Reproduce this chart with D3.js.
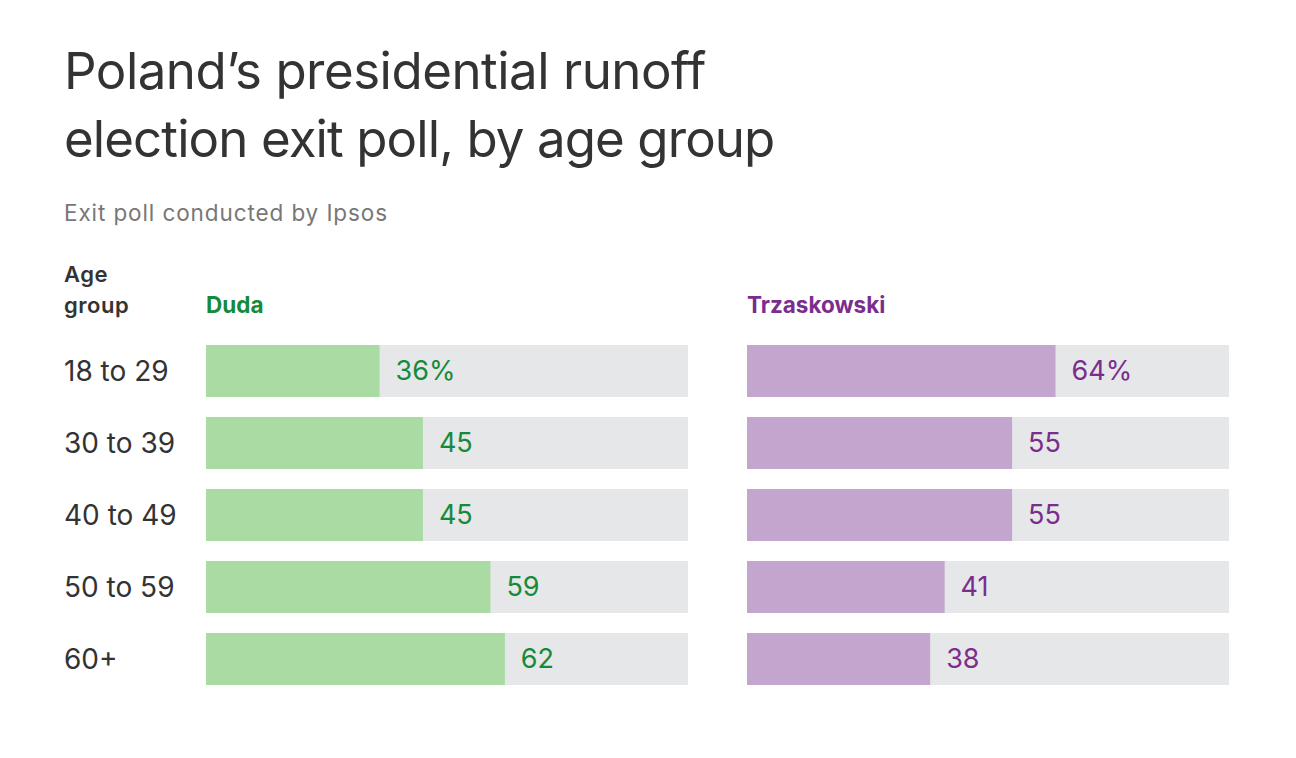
<!DOCTYPE html>
<html>
<head>
<meta charset="utf-8">
<script src="https://cdn.jsdelivr.net/npm/d3@7"></script>
<style>
  body { margin: 0; background: #fff; font-family: Inter, "Noto Sans", sans-serif; }
</style>
</head>
<body>
<div id="chart"></div>
<script>
var ageGroups = ["18 to 29", "30 to 39", "40 to 49", "50 to 59", "60+"];
var dudaValues = [36, 45, 45, 59, 62];
var trzaskowskiValues = [64, 55, 55, 41, 38];
var candidates = ["Duda", "Trzaskowski"];

var width = 1296, height = 758;

var svg = d3.select("#chart")
  .append("svg")
  .attr("width", width)
  .attr("height", height);

// title
svg.append("text")
  .attr("x", 64).attr("y", 89)
  .attr("font-size", "51px").attr("fill", "#333")
  .attr("letter-spacing", "-0.5px")
  .text("Poland\u2019s presidential runoff");
svg.append("text")
  .attr("x", 64).attr("y", 157)
  .attr("font-size", "51px").attr("fill", "#333")
  .attr("letter-spacing", "-0.9px")
  .text("election exit poll, by age group");

svg.append("text")
  .attr("x", 64).attr("y", 221)
  .attr("font-size", "22.5px").attr("fill", "#777")
  .attr("letter-spacing", "0.9px")
  .text("Exit poll conducted by Ipsos");

svg.append("text")
  .attr("x", 64).attr("y", 282)
  .attr("font-size", "22px").attr("font-weight", 600).attr("fill", "#333")
  .attr("letter-spacing", "0.5px")
  .text("Age");
svg.append("text")
  .attr("x", 64).attr("y", 313)
  .attr("font-size", "22px").attr("font-weight", 600).attr("fill", "#333")
  .attr("letter-spacing", "0.5px")
  .text("group");

var y = d3.scaleBand()
  .domain(ageGroups)
  .range([345, 685])
  .paddingInner(20 / 72)
  .paddingOuter(0);

// row labels
svg.selectAll(".rowlabel")
  .data(ageGroups)
  .enter()
  .append("text")
  .attr("class", "rowlabel")
  .attr("x", 64)
  .attr("y", function (d) { return y(d) + y.bandwidth() / 2; })
  .attr("dy", "0.35em")
  .attr("font-size", "28px")
  .attr("fill", "#333")
  .text(function (d) { return d; });

var panels = [
  { name: "Duda", values: dudaValues, x0: 206, fill: "#a9dba3", text: "#178a3a" },
  { name: "Trzaskowski", values: trzaskowskiValues, x0: 747, fill: "#c3a5cd", text: "#7b2d8e" }
];

panels.forEach(function (p) {
  var x = d3.scaleLinear().domain([0, 100]).range([p.x0, p.x0 + 482]);
  var g = svg.append("g");

  g.append("text")
    .attr("x", p.x0).attr("y", 313)
    .attr("font-size", "22.5px").attr("font-weight", 700)
    .attr("fill", p.text)
    .text(p.name);

  g.selectAll(".track")
    .data(ageGroups)
    .enter()
    .append("rect")
    .attr("x", x(0))
    .attr("y", function (d) { return y(d); })
    .attr("width", x(100) - x(0))
    .attr("height", y.bandwidth())
    .attr("fill", "#e6e7e9");

  g.selectAll(".bar")
    .data(p.values)
    .enter()
    .append("rect")
    .attr("x", x(0))
    .attr("y", function (d, i) { return y(ageGroups[i]); })
    .attr("width", function (d) { return x(d) - x(0); })
    .attr("height", y.bandwidth())
    .attr("fill", p.fill);

  g.selectAll(".val")
    .data(p.values)
    .enter()
    .append("text")
    .attr("x", function (d) { return x(d) + 16; })
    .attr("y", function (d, i) { return y(ageGroups[i]) + y.bandwidth() / 2; })
    .attr("dy", "0.35em")
    .attr("font-size", "27px")
    .attr("fill", p.text)
    .text(function (d, i) { return i === 0 ? d + "%" : d; });
});
</script>
</body>
</html>
